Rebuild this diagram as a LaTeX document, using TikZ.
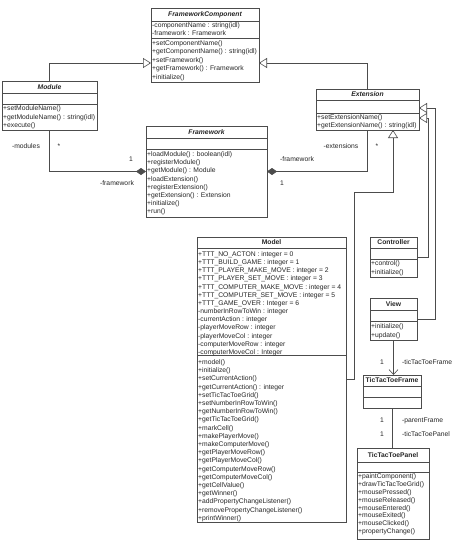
\documentclass[tikz,border=0pt]{standalone}
\usepackage{fontspec}
\setmainfont{Liberation Sans}
\usetikzlibrary{arrows.meta,calc}
\newcommand\umlfs{\fontsize{6.75}{8}\selectfont}
\definecolor{ink}{gray}{0.15}
\definecolor{edgec}{gray}{0.3}
\begin{document}
\begin{tikzpicture}[x=1pt,y=-1pt,
 box/.style={draw=edgec, line width=0.6pt, anchor=north west, inner sep=0pt, outer sep=0pt},
 sep/.style={draw=edgec, line width=0.6pt},
 txt/.style={anchor=base west, inner sep=0pt, font=\umlfs, text=ink},
 ttl/.style={anchor=base, inner sep=0pt, font=\umlfs\bfseries, text=ink},
 lbl/.style={anchor=base, inner sep=0pt, font=\umlfs, text=ink},
 lblw/.style={anchor=base west, inner sep=0pt, font=\umlfs, text=ink},
 gen/.style={draw=edgec, line width=0.6pt, -{Triangle[open,length=8pt,width=10pt]}},
 comp/.style={draw=edgec, line width=0.6pt, {Diamond[length=10pt,width=7pt]}-},
 assoc/.style={draw=edgec, line width=0.6pt, -{Straight Barb[length=5pt,width=9pt]}},
 plain/.style={draw=edgec, line width=0.6pt},
]
\useasboundingbox[fill=white] (0,0) rectangle (454,543);

% FrameworkComponent
\node[box, minimum width=108pt, minimum height=74pt] (fc) at (151,8) {};
\draw[sep] (151,21) -- (259,21) (151,38) -- (259,38);
\node[ttl] (fcT) at (205,16.9) {\itshape FrameworkComponent};
\foreach \t [count=\i from 0] in {-componentName : string(idl), -framework : Framework}
  \node[txt] (fcA\i) at (152,{27.4+\i*8.3}) {\t};
\foreach \t [count=\i from 0] in {+setComponentName(), +getComponentName() : string(idl), +setFramework(), +getFramework() : Framework, +initialize()}
  \node[txt] (fcM\i) at (152,{45.4+\i*8.4}) {\t};

% Module
\node[box, minimum width=95pt, minimum height=49pt] (mod) at (2,81) {};
\draw[sep] (2,93) -- (97,93) (2,104) -- (97,104);
\node[ttl] (modT) at (49.5,89.4) {\itshape Module};
\foreach \t [count=\i from 0] in {+setModuleName(), +getModuleName() : string(idl), +execute()}
  \node[txt] (modM\i) at (3,{110.9+\i*8.2}) {\t};

% Extension
\node[box, minimum width=103pt, minimum height=41pt] (ext) at (316,89) {};
\draw[sep] (316,100) -- (419,100) (316,113) -- (419,113);
\node[ttl] (extT) at (367.5,96.9) {\itshape Extension};
\foreach \t [count=\i from 0] in {+setExtensionName(), +getExtensionName() : string(idl)}
  \node[txt] (extM\i) at (317,{119.9+\i*8}) {\t};

% Framework
\node[box, minimum width=121pt, minimum height=91pt] (fw) at (146,126) {};
\draw[sep] (146,138) -- (267,138) (146,149) -- (267,149);
\node[ttl] (fwT) at (206.5,134.4) {\itshape Framework};
\foreach \t [count=\i from 0] in {+loadModule() : boolean(idl), +registerModule(), +getModule() : Module, +loadExtension(), +registerExtension(), +getExtension() : Extension, +initialize(), +run()}
  \node[txt] (fwM\i) at (147,{156.4+\i*8.2}) {\t};

% Model
\node[box, minimum width=149pt, minimum height=285pt] (model) at (197,237) {};
\draw[sep] (197,248) -- (346,248) (197,355) -- (346,355);
\node[ttl] (modelT) at (271.5,244.9) {Model};
\foreach \t [count=\i from 0] in {+TTT\_NO\_ACTON : integer = 0, +TTT\_BUILD\_GAME : integer = 1, +TTT\_PLAYER\_MAKE\_MOVE : integer = 2, +TTT\_PLAYER\_SET\_MOVE : integer = 3, +TTT\_COMPUTER\_MAKE\_MOVE : integer = 4, +TTT\_COMPUTER\_SET\_MOVE : integer = 5, +TTT\_GAME\_OVER : Integer = 6, -numberInRowToWin : integer, -currentAction : integer, -playerMoveRow : integer, -playerMoveCol : integer, -computerMoveRow : integer, -computerMoveCol : Integer}
  \node[txt] (modelA\i) at (198,{256.4+\i*8.17}) {\t};
\foreach \t [count=\i from 0] in {+model(), +initialize(), +setCurrentAction(), +getCurrentAction() : integer, +setTicTacToeGrid(), +setNumberInRowToWin(), +getNumberInRowToWin(), +getTicTacToeGrid(), +markCell(), +makePlayerMove(), +makeComputerMove(), +getPlayerMoveRow(), +getPlayerMoveCol(), +getComputerMoveRow(), +getComputerMoveCol(), +getCellValue(), +getWinner(), +addPropertyChangeListener(), +removePropertyChangeListener(), +printWinner()}
  \node[txt] (modelM\i) at (198,{364.4+\i*8.2}) {\t};

% Controller
\node[box, minimum width=47pt, minimum height=40pt] (ctrl) at (370,237) {};
\draw[sep] (370,248) -- (417,248) (370,259) -- (417,259);
\node[ttl] (ctrlT) at (393.5,244.9) {Controller};
\foreach \t [count=\i from 0] in {+control(), +initialize()}
  \node[txt] (ctrlM\i) at (371,{265.9+\i*8.5}) {\t};

% View
\node[box, minimum width=47pt, minimum height=42pt] (view) at (370,298) {};
\draw[sep] (370,310) -- (417,310) (370,321) -- (417,321);
\node[ttl] (viewT) at (393.5,306.4) {View};
\foreach \t [count=\i from 0] in {+initialize(), +update()}
  \node[txt] (viewM\i) at (371,{328.4+\i*9}) {\t};

% TicTacToeFrame
\node[box, minimum width=58pt, minimum height=33pt] (ttf) at (363,375) {};
\draw[sep] (363,386) -- (421,386) (363,397) -- (421,397);
\node[ttl] (ttfT) at (392,382.4) {TicTacToeFrame};

% TicTacToePanel
\node[box, minimum width=72pt, minimum height=91pt] (ttp) at (357,448) {};
\draw[sep] (357,462) -- (429,462) (357,472) -- (429,472);
\node[ttl] (ttpT) at (393,457.4) {TicTacToePanel};
\foreach \t [count=\i from 0] in {+paintComponent(), +drawTicTacToeGrid(), +mousePressed(), +mouseReleased(), +mouseEntered(), +mouseExited(), +mouseClicked(), +propertyChange()}
  \node[txt] (ttpM\i) at (358,{478.4+\i*7.9}) {\t};

% connectors
\coordinate (fcL) at (151,63);
\coordinate (fcR) at (259,63);
\draw[gen] (mod.north) |- (fcL);
\draw[gen] (ext.north) |- (fcR);
\draw[comp] (fw.west) -| (mod.south);
\draw[comp] (fw.east) -| (ext.south);
\coordinate (extB) at (393,130);
\coordinate (modelR) at (346,379);
\draw[gen] (modelR) -- ++(8,0) |- ($(extB)+(0,62)$) -- (extB);
\coordinate (extR1) at (419,108);
\coordinate (extR2) at (419,118);
\draw[gen] (ctrl.east) -- ++(11,0) |- (extR2);
\draw[gen] (view.east) -- ++(18,0) |- (extR1);
\draw[assoc] (view.south) -- (view.south |- ttf.north);
\draw[plain] (ttf.south) -- (ttf.south |- ttp.north);

% labels
\node[lbl] (l1) at (26,148.4) {-modules};
\node[lbl] (l2) at (59,148.4) {*};
\node[lbl] (l3) at (131,161.4) {1};
\node[lbl] (l4) at (117,185.4) {-framework};
\node[lbl] (l5) at (341,148.4) {-extensions};
\node[lbl] (l6) at (377,148.4) {*};
\node[lbl] (l7) at (297,161.4) {-framework};
\node[lbl] (l8) at (282,185.4) {1};
\node[lbl] (l9) at (382,364.4) {1};
\node[lblw] (l10) at (402,364.4) {-ticTacToeFrame};
\node[lbl] (l11) at (382,422.4) {1};
\node[lblw] (l12) at (402,422.4) {-parentFrame};
\node[lbl] (l13) at (382,436.4) {1};
\node[lblw] (l14) at (402,436.4) {-ticTacToePanel};
\end{tikzpicture}
\end{document}
